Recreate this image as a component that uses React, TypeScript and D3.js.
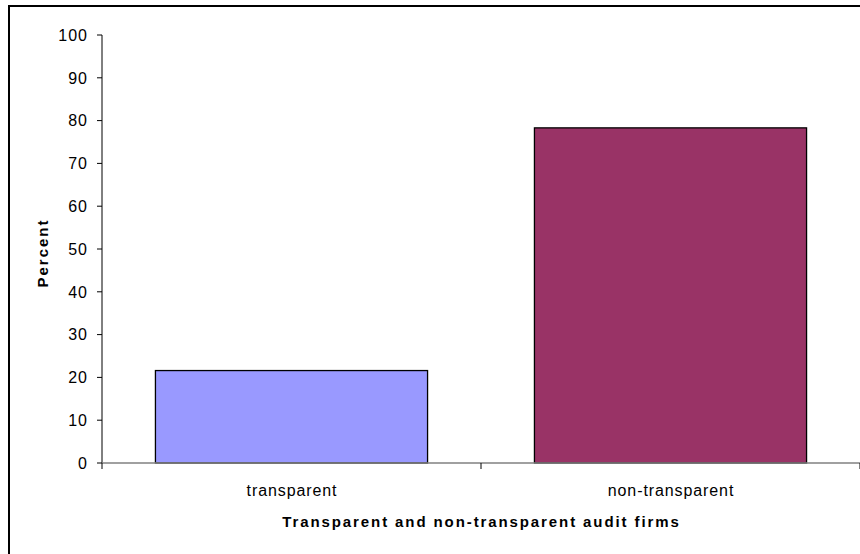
import React from "react";
import * as d3 from "d3";

const categories = ["transparent", "non-transparent"];
const values = [21.6, 78.3];
const colors = ["#9999FF", "#993366"];
const yTicks = [0, 10, 20, 30, 40, 50, 60, 70, 80, 90, 100];
const yTitle = "Percent";
const xTitle = "Transparent and non-transparent audit firms";

export default function App() {
  const W = 860, H = 554;
  const left = 102, right = 860, top = 35, bottom = 463;
  const x = d3.scaleBand<string>().domain(categories).range([left, right]).paddingInner(0.282).paddingOuter(0.141);
  const y = d3.scaleLinear().domain([0, 100]).range([bottom, top]);
  const font = "'Liberation Sans', Arial, sans-serif";
  const band = (right - left) / categories.length;
  return (
    <svg width={W} height={H} style={{ position: "absolute", left: 0, top: 0 }} fontFamily={font}>
      <rect x={0} y={0} width={W} height={H} fill="#fff" />
      <rect x={9} y={6} width={1000} height={1000} fill="none" stroke="#000" strokeWidth={2} />
      {categories.map((c, i) => (
        <rect key={c} x={x(c)!} y={y(values[i])} width={x.bandwidth()} height={bottom - y(values[i])}
          fill={colors[i]} stroke="#000" strokeWidth={1.3} />
      ))}
      <line x1={left} x2={left} y1={top} y2={bottom} stroke="#000" strokeWidth={1} />
      <line x1={left} x2={right} y1={bottom} y2={bottom} stroke="#808080" strokeWidth={1.5} />
      {yTicks.map(t => (
        <g key={t}>
          <line x1={left - 5} x2={left} y1={y(t)} y2={y(t)} stroke="#000" />
          <text x={88} y={y(t)} dy="0.36em" textAnchor="end" fontSize={16} letterSpacing={1}>{t}</text>
        </g>
      ))}
      {d3.range(categories.length + 1).map(i => (
        <line key={i} x1={left + band * i} x2={left + band * i} y1={bottom} y2={bottom + 6} stroke="#000" />
      ))}
      {categories.map(c => (
        <text key={c} x={x(c)! + x.bandwidth() / 2 + 0.5} y={495.5} textAnchor="middle" fontSize={16} letterSpacing={0.9}>{c}</text>
      ))}
      <text x={481.5} y={527} textAnchor="middle" fontSize={15} fontWeight="bold" letterSpacing={1.9}>{xTitle}</text>
      <text transform={`translate(47.5,253) rotate(-90)`} textAnchor="middle" fontSize={15} fontWeight="bold" letterSpacing={2}>{yTitle}</text>
    </svg>
  );
}
